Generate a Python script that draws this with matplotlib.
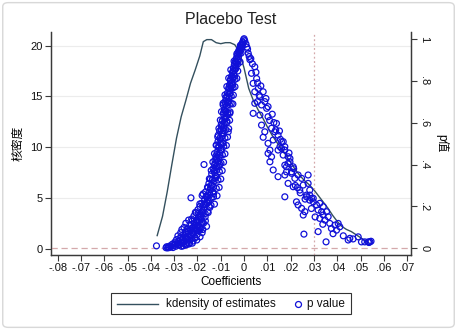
import matplotlib
matplotlib.use("Agg")
import matplotlib.pyplot as plt
from matplotlib.lines import Line2D
from matplotlib.patches import FancyBboxPatch, Rectangle

plt.rcParams['font.family'] = ['Liberation Sans', 'Noto Sans CJK SC', 'DejaVu Sans']

# kernel density of the placebo estimates
kde_x = [-0.0373, -0.035, -0.033, -0.031, -0.029, -0.027, -0.025, -0.023, -0.021, -0.019,
         -0.0175, -0.016, -0.014, -0.012, -0.010, -0.008, -0.006, -0.004, -0.002, 0.0,
         0.002, 0.004, 0.006, 0.008, 0.010, 0.012, 0.014, 0.016, 0.018, 0.020,
         0.022, 0.024, 0.026, 0.028, 0.030, 0.032, 0.034, 0.036, 0.038, 0.040,
         0.042, 0.044, 0.046, 0.048, 0.050, 0.052, 0.0535]
kde_y = [1.3, 3.2, 5.6, 8.3, 10.9, 13.0, 14.6, 16.3, 17.6, 19.0,
         20.4, 20.6, 20.6, 20.3, 20.2, 20.3, 20.3, 20.1, 19.4, 17.8,
         15.8, 14.6, 13.7, 12.9, 12.0, 11.2, 10.5, 9.9, 9.2, 8.5,
         7.8, 7.2, 6.7, 6.3, 5.8, 5.2, 4.6, 4.0, 3.3, 2.7,
         2.2, 1.9, 1.7, 1.4, 1.1, 0.8, 0.6]

# placebo coefficients below zero and their p values
coef_neg = [-0.0376, -0.0335, -0.0332, -0.0328, -0.0325, -0.0320, -0.0318, -0.0312, -0.0308, -0.0305,
            -0.0300, -0.0297, -0.0293, -0.0290, -0.0287, -0.0284, -0.0280, -0.0278, -0.0275, -0.0272,
            -0.0270, -0.0267, -0.0265, -0.0262, -0.0260, -0.0258, -0.0255, -0.0252, -0.0250, -0.0248,
            -0.0245, -0.0243, -0.0240, -0.0238, -0.0236, -0.0233, -0.0230, -0.0228, -0.0227, -0.0225,
            -0.0222, -0.0220, -0.0218, -0.0215, -0.0213, -0.0210, -0.0208, -0.0206, -0.0204, -0.0202,
            -0.0200, -0.0198, -0.0196, -0.0194, -0.0192, -0.0190, -0.0188, -0.0186, -0.0184, -0.0182,
            -0.0180, -0.0178, -0.0176, -0.0174, -0.0172, -0.0171, -0.0169, -0.0167, -0.0165, -0.0163,
            -0.0161, -0.0159, -0.0157, -0.0155, -0.0153, -0.0151, -0.0149, -0.0147, -0.0145, -0.0143,
            -0.0141, -0.0139, -0.0137, -0.0135, -0.0133, -0.0131, -0.0129, -0.0127, -0.0125, -0.0125,
            -0.0123, -0.0121, -0.0119, -0.0118, -0.0118, -0.0116, -0.0114, -0.0112, -0.0111, -0.0109,
            -0.0107, -0.0105, -0.0104, -0.0104, -0.0102, -0.0100, -0.0098, -0.0097, -0.0097, -0.0095,
            -0.0093, -0.0091, -0.0090, -0.0090, -0.0088, -0.0086, -0.0084, -0.0082, -0.0080, -0.0078,
            -0.0076, -0.0074, -0.0072, -0.0070, -0.0068, -0.0066, -0.0064, -0.0062, -0.0061, -0.0060,
            -0.0058, -0.0056, -0.0054, -0.0052, -0.0050, -0.0048, -0.0046, -0.0044, -0.0042, -0.0040,
            -0.0038, -0.0036, -0.0034, -0.0032, -0.0030, -0.0028, -0.0026, -0.0024, -0.0022, -0.0020,
            -0.0018, -0.0016, -0.0014, -0.0012, -0.0010, -0.0008, -0.0006, -0.0004, -0.0002, 0.0000,
            -0.0262, -0.0255, -0.0246, -0.0239, -0.0231, -0.0224, -0.0217, -0.0211, -0.0205, -0.0199,
            -0.0193, -0.0187, -0.0181, -0.0175, -0.0269, -0.0251, -0.0234, -0.0219, -0.0203, -0.0189,
            -0.0177, -0.0168, -0.0158, -0.0150, -0.0142, -0.0134, -0.0126, -0.0119, -0.0110, -0.0101,
            -0.0092, -0.0085, -0.0079, -0.0071, -0.0065, -0.0057, -0.0049, -0.0041, -0.0035, -0.0027,
            -0.0016, -0.0008, -0.0031, -0.0021, -0.0013, -0.0043, -0.0035, -0.0025, -0.0017,
            -0.0057, -0.0046, -0.0037, -0.0027, -0.0066, -0.0058, -0.0048, -0.0039, -0.0031,
            -0.0074, -0.0065, -0.0056, -0.0047, -0.0039, -0.0082, -0.0073, -0.0064, -0.0055, -0.0046,
            -0.0090, -0.0081, -0.0072, -0.0063, -0.0055, -0.0048, -0.0097, -0.0088, -0.0079, -0.0070, -0.0060,
            -0.0102, -0.0093, -0.0083, -0.0073, -0.0062, -0.0108, -0.0098, -0.0089, -0.0078, -0.0066,
            -0.0113, -0.0103, -0.0093, -0.0082, -0.0071, -0.0120, -0.0109, -0.0098, -0.0087, -0.0076,
            -0.0127, -0.0116, -0.0104, -0.0093, -0.0082, -0.0134, -0.0122, -0.0110, -0.0099, -0.0088,
            -0.0141, -0.0129, -0.0117, -0.0106, -0.0094, -0.0149, -0.0136, -0.0124, -0.0112, -0.0100,
            -0.0157, -0.0144, -0.0131, -0.0119, -0.0107, -0.0180, -0.0163, -0.0147, -0.0131, -0.0116,
            -0.0190, -0.0174, -0.0158, -0.0142, -0.0127, -0.0209, -0.0195, -0.0180, -0.0167, -0.0154,
            -0.0222, -0.0207, -0.0193, -0.0179, -0.0166, -0.0242, -0.0229, -0.0214, -0.0201, -0.0188,
            -0.0268, -0.0254, -0.0240, -0.0226, -0.0212, -0.0296, -0.0281, -0.0266, -0.0250, -0.0236]
p_neg = [0.012, 0.003, 0.008, 0.002, 0.006, 0.004, 0.012, 0.009, 0.020, 0.004,
         0.015, 0.030, 0.010, 0.042, 0.022, 0.060, 0.035, 0.015, 0.050, 0.075,
         0.028, 0.090, 0.045, 0.012, 0.065, 0.100, 0.035, 0.080, 0.120, 0.055,
         0.020, 0.095, 0.070, 0.135, 0.040, 0.110, 0.085, 0.241, 0.060, 0.140,
         0.025, 0.100, 0.075, 0.155, 0.120, 0.050, 0.090, 0.170, 0.135, 0.065,
         0.110, 0.185, 0.150, 0.085, 0.125, 0.200, 0.100, 0.165, 0.140, 0.215,
         0.075, 0.180, 0.260, 0.120, 0.400, 0.195, 0.235, 0.150, 0.270, 0.210,
         0.105, 0.250, 0.175, 0.290, 0.225, 0.310, 0.265, 0.195, 0.330, 0.280,
         0.240, 0.355, 0.300, 0.330, 0.380, 0.260, 0.320, 0.400, 0.421, 0.374,
         0.345, 0.440, 0.390, 0.493, 0.342, 0.460, 0.415, 0.510, 0.540, 0.480,
         0.435, 0.560, 0.445, 0.400, 0.520, 0.470, 0.590, 0.469, 0.580, 0.545,
         0.610, 0.500, 0.504, 0.684, 0.640, 0.560, 0.660, 0.700, 0.620, 0.720,
         0.680, 0.600, 0.740, 0.700, 0.556, 0.760, 0.720, 0.780, 0.644, 0.740,
         0.800, 0.770, 0.820, 0.790, 0.840, 0.810, 0.860, 0.830, 0.875, 0.850,
         0.890, 0.870, 0.905, 0.885, 0.920, 0.900, 0.935, 0.915, 0.945, 0.930,
         0.955, 0.945, 0.965, 0.958, 0.975, 0.970, 0.985, 0.980, 0.995, 1.000,
         0.030, 0.060, 0.045, 0.080, 0.060, 0.095, 0.070, 0.110, 0.085, 0.130,
         0.100, 0.150, 0.120, 0.170, 0.010, 0.018, 0.025, 0.035, 0.040, 0.055,
         0.090, 0.210, 0.230, 0.200, 0.300, 0.270, 0.360, 0.430, 0.390, 0.500,
         0.550, 0.600, 0.650, 0.640, 0.700, 0.760, 0.780, 0.820, 0.860, 0.880,
         0.968, 0.975, 0.928, 0.936, 0.931, 0.893, 0.887, 0.896, 0.889,
         0.852, 0.848, 0.856, 0.846, 0.812, 0.808, 0.815, 0.806, 0.811,
         0.772, 0.768, 0.775, 0.766, 0.771, 0.732, 0.728, 0.735, 0.726, 0.731,
         0.692, 0.688, 0.695, 0.686, 0.691, 0.689, 0.652, 0.648, 0.655, 0.646, 0.651,
         0.612, 0.608, 0.615, 0.606, 0.611, 0.572, 0.568, 0.575, 0.566, 0.571,
         0.532, 0.528, 0.535, 0.526, 0.531, 0.492, 0.488, 0.495, 0.486, 0.491,
         0.452, 0.448, 0.455, 0.446, 0.451, 0.412, 0.408, 0.415, 0.406, 0.411,
         0.372, 0.368, 0.375, 0.366, 0.371, 0.332, 0.328, 0.335, 0.326, 0.331,
         0.292, 0.288, 0.295, 0.286, 0.291, 0.252, 0.248, 0.255, 0.246, 0.251,
         0.212, 0.208, 0.215, 0.206, 0.211, 0.172, 0.168, 0.175, 0.166, 0.171,
         0.132, 0.128, 0.135, 0.126, 0.131, 0.092, 0.088, 0.095, 0.086, 0.091,
         0.052, 0.048, 0.055, 0.046, 0.051, 0.022, 0.018, 0.025, 0.016, 0.021]

# placebo coefficients above zero and their p values
coef_pos = [0.0003, 0.0018, 0.0025, 0.0046, 0.0032, 0.0054, 0.0039, 0.0061, 0.0082, 0.0046,
            0.0068, 0.0089, 0.0103, 0.0075, 0.0046, 0.0097, 0.0039, 0.0068, 0.0103, 0.0075,
            0.0139, 0.0118, 0.0089, 0.0132, 0.0146, 0.0082, 0.0125, 0.0161, 0.0103, 0.0154,
            0.0175, 0.0111, 0.0146, 0.0103, 0.0118, 0.0189, 0.0111, 0.0197, 0.0125, 0.0182,
            0.0204, 0.0146, 0.0175, 0.0168, 0.0161, 0.0175, 0.0197, 0.0189, 0.0211, 0.0175,
            0.0182, 0.0204, 0.0232, 0.0218, 0.0247, 0.0275, 0.0189, 0.0211, 0.0254, 0.0239,
            0.0282, 0.0268, 0.0297, 0.0175, 0.0282, 0.0275, 0.0282, 0.0268, 0.0290, 0.0225,
            0.0232, 0.0297, 0.0311, 0.0325, 0.0340, 0.0247, 0.0261, 0.0318, 0.0333, 0.0354,
            0.0254, 0.0340, 0.0361, 0.0325, 0.0347, 0.0368, 0.0390, 0.0404, 0.0375, 0.0411,
            0.0397, 0.0257, 0.0318, 0.0352, 0.0454, 0.0447, 0.0490, 0.0504, 0.0518, 0.0533,
            0.0540, 0.0012, 0.0022, 0.0036, 0.0058, 0.0065, 0.0110, 0.0128, 0.0152, 0.0220,
            0.0008, 0.0015, 0.0029, 0.0051, 0.0072, 0.0094, 0.0058, 0.0121, 0.0136, 0.0168,
            0.0156, 0.0193, 0.0213, 0.0229, 0.0241, 0.0262, 0.0289, 0.0305, 0.0338, 0.0382,
            0.0426, 0.0468, 0.0536, 0.0545]
p_pos = [0.990, 0.930, 0.900, 0.866, 0.835, 0.810, 0.787, 0.763, 0.747, 0.747,
         0.723, 0.700, 0.676, 0.684, 0.692, 0.668, 0.644, 0.636, 0.628, 0.588,
         0.596, 0.573, 0.556, 0.556, 0.540, 0.530, 0.517, 0.509, 0.501, 0.485,
         0.485, 0.469, 0.469, 0.453, 0.437, 0.437, 0.413, 0.413, 0.374, 0.389,
         0.365, 0.342, 0.350, 0.509, 0.477, 0.469, 0.429, 0.405, 0.389, 0.397,
         0.365, 0.358, 0.350, 0.334, 0.334, 0.350, 0.310, 0.294, 0.302, 0.278,
         0.278, 0.254, 0.239, 0.246, 0.230, 0.310, 0.254, 0.246, 0.239, 0.222,
         0.207, 0.222, 0.207, 0.215, 0.199, 0.191, 0.175, 0.183, 0.175, 0.175,
         0.159, 0.159, 0.151, 0.143, 0.135, 0.119, 0.111, 0.119, 0.095, 0.103,
         0.087, 0.068, 0.080, 0.031, 0.048, 0.040, 0.055, 0.031, 0.031, 0.031,
         0.031, 0.960, 0.915, 0.880, 0.790, 0.730, 0.610, 0.600, 0.560, 0.300,
         0.975, 0.950, 0.905, 0.840, 0.775, 0.715, 0.700, 0.640, 0.565, 0.445,
         0.520, 0.455, 0.380, 0.290, 0.265, 0.235, 0.190, 0.150, 0.115, 0.070,
         0.060, 0.045, 0.028, 0.034]

xticks = [-0.08, -0.07, -0.06, -0.05, -0.04, -0.03, -0.02, -0.01, 0, 0.01, 0.02, 0.03, 0.04, 0.05, 0.06, 0.07]
xtick_labels = ['-.08', '-.07', '-.06', '-.05', '-.04', '-.03', '-.02', '-.01', '0', '.01', '.02', '.03', '.04', '.05', '.06', '.07']
yticks = [0, 5, 10, 15, 20]
pticks = [0, 0.2, 0.4, 0.6, 0.8, 1]
ptick_labels = ['0', '.2', '.4', '.6', '.8', '1']

line_col = '#34505e'
dot_col = '#1010d8'
ref_col = '#d4a9ab'
axis_col = '#3a3a3a'

W, H = 457, 330
fig = plt.figure(figsize=(W / 100, H / 100), dpi=100)
fig.patch.set_facecolor('white')
fig.patches.append(FancyBboxPatch((0.006, 0.008), 0.988, 0.984, boxstyle='round,pad=0,rounding_size=0.012',
                                  transform=fig.transFigure, fill=False, edgecolor='#d8d8d8', linewidth=1.0))

ax = fig.add_axes([0.111, 0.227, 0.788, 0.676])
ax2 = ax.twinx()

ax.plot(kde_x, kde_y, color=line_col, linewidth=1.0, zorder=3)
ax.set_xlim(-0.083, 0.0716)
ax.set_ylim(-0.62, 21.35)
ax.set_xticks(xticks)
ax.set_xticklabels(xtick_labels)
ax.set_yticks(yticks)
for y in yticks[1:]:
    ax.axhline(y, color='#ececec', linewidth=0.8, zorder=0)
ax.set_ylabel('核密度', fontsize=8.5, labelpad=4)
ax.set_xlabel('Coefficients', fontsize=8.5, labelpad=2)
ax.set_title('Placebo Test', fontsize=11.5, pad=6, color='#222222')

ax2.scatter(coef_neg + coef_pos, p_neg + p_pos, s=18, facecolors='none', edgecolors=dot_col,
            linewidths=0.9, zorder=4)
ax2.axhline(0, color=ref_col, linestyle=(0, (5, 3)), linewidth=0.9, zorder=1)
ax2.axvline(0.03, color=ref_col, linestyle=(0, (1.5, 2)), linewidth=0.9, zorder=1)
ax2.set_ylim(-0.032, 1.032)
ax2.set_yticks(pticks)
ax2.set_yticklabels(ptick_labels, rotation=-90, va='center')
ax2.set_ylabel('p值', fontsize=8.5, rotation=-90, labelpad=14)

for a in (ax, ax2):
    a.spines['top'].set_visible(False)
    for s in ('left', 'right', 'bottom'):
        a.spines[s].set_color(axis_col)
        a.spines[s].set_linewidth(0.9)
    a.tick_params(length=4, width=0.8, color=axis_col, labelsize=8, pad=2, labelcolor='#111111')

# legend box drawn by hand (Stata style: line key far left, marker key next to its label)
def fx(px):
    return px / W

def fy(py):
    return 1 - py / H

fig.add_artist(Rectangle((fx(111), fy(314)), fx(351) - fx(111), fy(293) - fy(314),
                         transform=fig.transFigure, fill=False, edgecolor='#333333', linewidth=0.8))
fig.add_artist(Line2D([fx(117), fx(158)], [fy(303.5), fy(303.5)], transform=fig.transFigure,
                      color=line_col, linewidth=1.0))
fig.text(fx(166), fy(303.5), 'kdensity of estimates', fontsize=8.5, va='center', ha='left', color='#111111')
fig.add_artist(Line2D([fx(298)], [fy(303.5)], transform=fig.transFigure, marker='o', linestyle='none',
                      markerfacecolor='none', markeredgecolor=dot_col, markersize=4.3, markeredgewidth=0.9))
fig.text(fx(307), fy(303.5), 'p value', fontsize=8.5, va='center', ha='left', color='#111111')

fig.savefig('out.png', dpi=100)
